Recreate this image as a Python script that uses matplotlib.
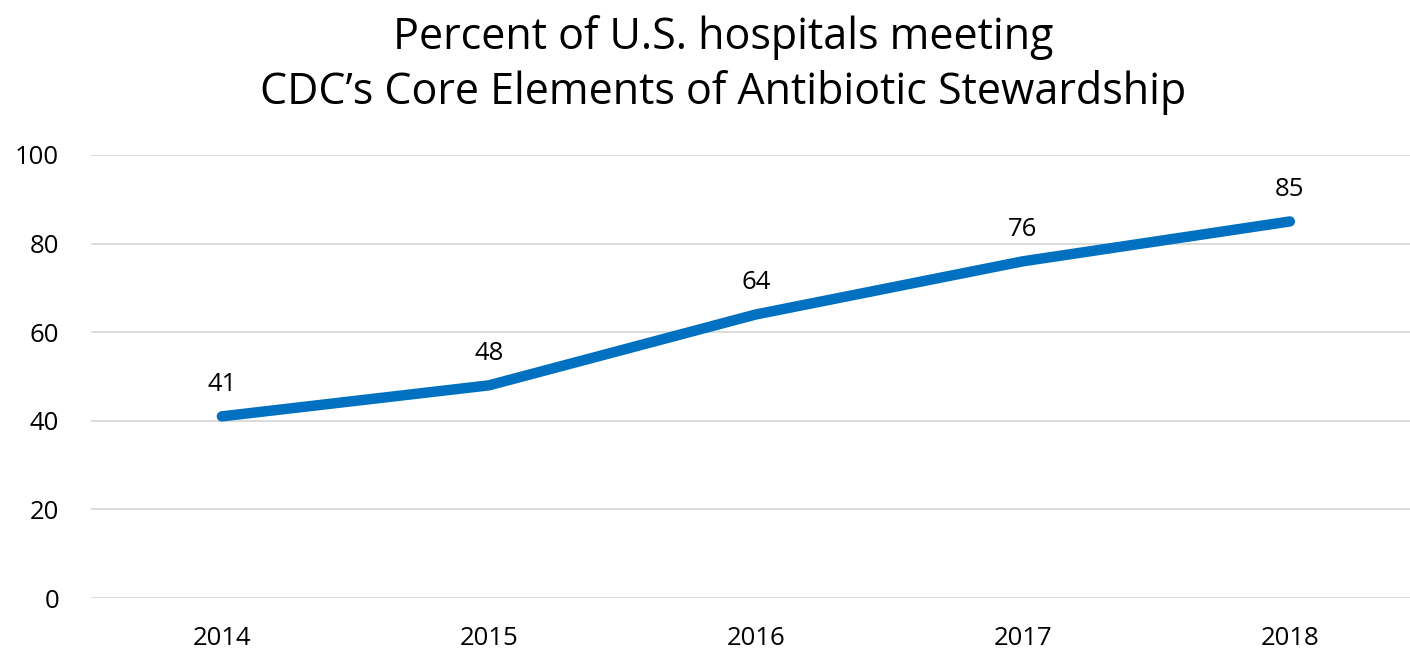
import matplotlib.pyplot as plt

years = ['2014', '2015', '2016', '2017', '2018']
percent = [41, 48, 64, 76, 85]

plt.rcParams['font.family'] = ['Open Sans', 'DejaVu Sans']

fig = plt.figure(figsize=(14.1, 6.52), dpi=100)
ax = fig.add_axes([91 / 1410, 54 / 652, (1410 - 91) / 1410, (598 - 155) / 652])

x = list(range(len(years)))
ax.plot(x, percent, color='#0070C0', linewidth=7.5, solid_capstyle='round', solid_joinstyle='round', zorder=3)

# Data labels above each point
for xi, v in zip(x, percent):
    ax.annotate(str(v), (xi, v), xytext=(0, 23), textcoords='offset points',
                ha='center', va='center', fontsize=18.5, color='#000000')

ax.set_xlim(-0.49, 4.45)
ax.set_ylim(0, 100)
ax.set_yticks([0, 20, 40, 60, 80, 100])
ax.set_xticks(x)
ax.set_xticklabels(years)
ax.grid(axis='y', color='#D9D9D9', linewidth=1.3)
ax.set_axisbelow(True)
for s in ax.spines.values():
    s.set_visible(False)
ax.tick_params(axis='both', length=0, labelsize=18.5, colors='#000000')
ax.tick_params(axis='y', pad=23)
ax.tick_params(axis='x', pad=20)
for lbl in ax.get_yticklabels():
    lbl.set_horizontalalignment('right')

fig.text(0.513, 0.900, "Percent of U.S. hospitals meeting\nCDC\u2019s Core Elements of Antibiotic Stewardship",
         ha='center', va='center', fontsize=31, linespacing=1.3, color='#000000')

fig.savefig('out.png', dpi=100)
